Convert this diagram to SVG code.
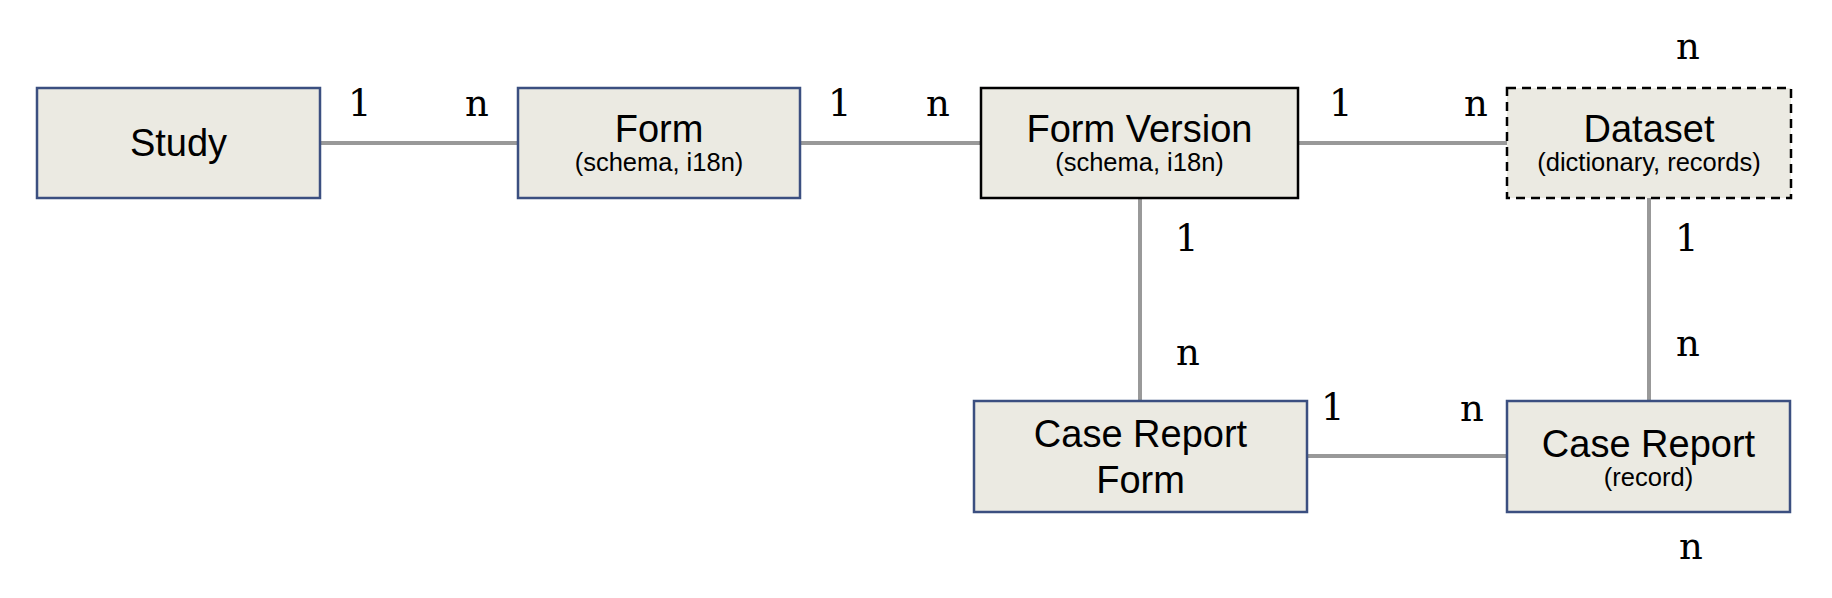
<svg xmlns="http://www.w3.org/2000/svg" width="1832" height="598" viewBox="0 0 1832 598">
<style>
.box{fill:#ebeae2;stroke:#3b4f80;stroke-width:2.5}
.box-k{fill:#ebeae2;stroke:#000;stroke-width:2.5}
.box-d{fill:#ebeae2;stroke:#000;stroke-width:2.5;stroke-dasharray:9 6}
.t{font-family:"Liberation Sans",Arial,sans-serif;font-size:38px;fill:#000;text-anchor:middle}
.s{font-family:"Liberation Sans",Arial,sans-serif;font-size:25.5px;fill:#000;text-anchor:middle}
.c{font-family:"DejaVu Serif",serif;font-size:37px;fill:#000}
.ln{stroke:#999;stroke-width:4;fill:none}
</style>
<rect width="1832" height="598" fill="#fff"/>
<g id="connectors">
<line class="ln" x1="320" y1="143" x2="518" y2="143"/>
<line class="ln" x1="800" y1="143" x2="981" y2="143"/>
<line class="ln" x1="1298" y1="143" x2="1507" y2="143"/>
<line class="ln" x1="1140" y1="198" x2="1140" y2="401"/>
<line class="ln" x1="1649" y1="198" x2="1649" y2="401"/>
<line class="ln" x1="1307" y1="456" x2="1507" y2="456"/>
</g>
<g id="labels">
<text class="c" x="348" y="116">1</text>
<text class="c" x="465" y="116">n</text>
<text class="c" x="828" y="116">1</text>
<text class="c" x="926" y="116">n</text>
<text class="c" x="1329" y="116">1</text>
<text class="c" x="1464" y="116">n</text>
<text class="c" x="1676" y="59">n</text>
<text class="c" x="1175" y="251">1</text>
<text class="c" x="1176" y="365">n</text>
<text class="c" x="1675" y="251">1</text>
<text class="c" x="1676" y="356">n</text>
<text class="c" x="1321" y="420">1</text>
<text class="c" x="1460" y="421">n</text>
<text class="c" x="1679" y="559">n</text>
</g>
<g id="study">
<rect class="box" x="37" y="88" width="283" height="110"/>
<text class="t" x="178.5" y="156">Study</text>
</g>
<g id="form">
<rect class="box" x="518" y="88" width="282" height="110"/>
<text class="t" x="659" y="142">Form</text>
<text class="s" x="659" y="171">(schema, i18n)</text>
</g>
<g id="form-version">
<rect class="box-k" x="981" y="88" width="317" height="110"/>
<text class="t" x="1139.5" y="142">Form Version</text>
<text class="s" x="1139.5" y="171">(schema, i18n)</text>
</g>
<g id="dataset">
<rect class="box-d" x="1507" y="88" width="284" height="110"/>
<text class="t" x="1649" y="142">Dataset</text>
<text class="s" x="1649" y="171">(dictionary, records)</text>
</g>
<g id="case-report-form">
<rect class="box" x="974" y="401" width="333" height="111"/>
<text class="t" x="1140.5" y="447">Case Report</text>
<text class="t" x="1140.5" y="493">Form</text>
</g>
<g id="case-report">
<rect class="box" x="1507" y="401" width="283" height="111"/>
<text class="t" x="1648.5" y="457">Case Report</text>
<text class="s" x="1648.5" y="486">(record)</text>
</g>
</svg>
